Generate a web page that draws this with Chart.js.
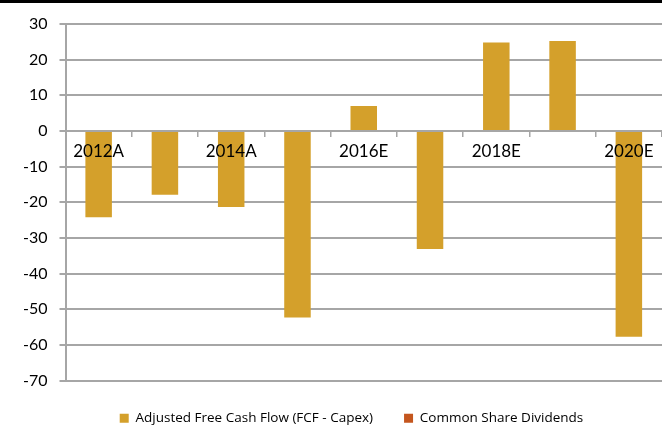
<!DOCTYPE html>
<html>
<head>
<meta charset="utf-8">
<script src="https://cdn.jsdelivr.net/npm/chart.js@4"></script>
<style>
  html, body { margin: 0; padding: 0; background: #fff; }
  #wrap { position: relative; width: 662px; height: 426px; overflow: hidden; }
  #topRule { position: absolute; left: 0; top: 0; width: 662px; height: 3px; background: #000; z-index: 2; }
  #chart { display: block; }
</style>
</head>
<body>
<div id="wrap">
  <div id="topRule"></div>
  <canvas id="chart" width="662" height="426"></canvas>
</div>
<script>
// Categories and series
const categories = ['2012A', '2013A', '2014A', '2015A', '2016E', '2017E', '2018E', '2019E', '2020E'];
const freeCashFlow = [-24.2, -17.9, -21.3, -52.3, 7.0, -33.1, 24.8, 25.2, -57.7];
const dividends = [null, null, null, null, null, null, null, null, null];
const yTicks = [30, 20, 10, 0, -10, -20, -30, -40, -50, -60, -70];

const FONT = 'Lato, "Open Sans", sans-serif';
const GRID = '#a6a6a6';

// shift the legend to the right, like the original layout
const legendShift = {
    id: 'legendShift',
    afterLayout(chart) {
        if (!chart.legend) return;
        chart.legend.left += 12;
        chart.legend.right += 12;
    }
};

const ctx = document.getElementById('chart');
new Chart(ctx, {
    type: 'bar',
    data: {
        labels: categories,
        datasets: [{
            label: 'Adjusted Free Cash Flow (FCF - Capex)',
            data: freeCashFlow,
            backgroundColor: '#d4a02b',
            borderWidth: 0,
            grouped: false,
            categoryPercentage: 0.5,
            barPercentage: 0.8
        }, {
            label: 'Common Share Dividends',
            data: dividends,
            backgroundColor: '#c4561e',
            borderWidth: 0,
            grouped: false,
            categoryPercentage: 0.5,
            barPercentage: 0.8
        }]
    },
    options: {
        responsive: false,
        animation: false,
        layout: {
            padding: { top: 24, left: 11, right: -6, bottom: -9 }
        },
        plugins: {
            legend: {
                position: 'bottom',
                labels: {
                    boxWidth: 9,
                    boxHeight: 9,
                    padding: 31,
                    color: '#000',
                    font: { family: '"Open Sans", sans-serif', size: 13.5 }
                }
            },
            tooltip: { enabled: false }
        },
        scales: {
            x: {
                position: { y: 0 },
                offset: true,
                grid: {
                    offset: true,
                    drawOnChartArea: false,
                    tickLength: 5,
                    color: GRID,
                    lineWidth: 1.5
                },
                border: { display: true, color: GRID, width: 2 },
                ticks: {
                    z: 1,
                    autoSkip: false,
                    maxRotation: 0,
                    padding: 5,
                    color: '#000',
                    font: { family: FONT, size: 17 },
                    callback: function(value, index) {
                        return index % 2 === 0 ? categories[index] : '';
                    }
                }
            },
            y: {
                min: Math.min(...yTicks),
                max: Math.max(...yTicks),
                afterBuildTicks: function(scale) {
                    scale.ticks = yTicks.map(v => ({ value: v }));
                },
                grid: {
                    color: GRID,
                    lineWidth: 2,
                    tickLength: 6
                },
                border: { display: true, color: GRID, width: 2 },
                ticks: {
                    padding: 12,
                    color: '#000',
                    font: { family: FONT, size: 16 }
                }
            }
        }
    },
    plugins: [legendShift]
});
</script>
</body>
</html>
